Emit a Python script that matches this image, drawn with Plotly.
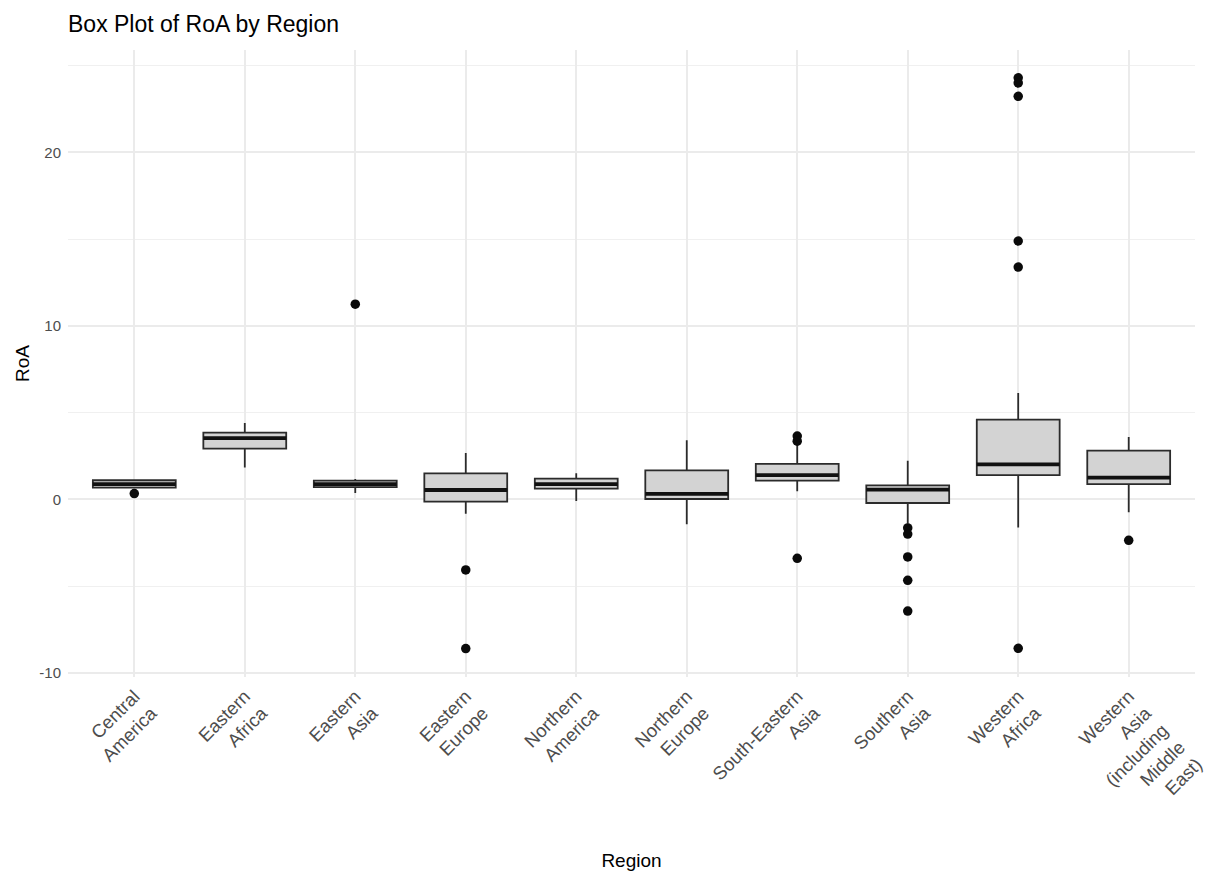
import plotly.graph_objects as go

regions = ["Central America", "Eastern Africa", "Eastern Asia", "Eastern Europe",
           "Northern America", "Northern Europe", "South-Eastern Asia", "Southern Asia",
           "Western Africa", "Western Asia (including Middle East)"]
tick_labels = ["Central<br>America", "Eastern<br>Africa", "Eastern<br>Asia", "Eastern<br>Europe",
               "Northern<br>America", "Northern<br>Europe", "South-Eastern<br>Asia", "Southern<br>Asia",
               "Western<br>Africa", "Western<br>Asia<br>(including<br>Middle<br>East)"]
y_ticks = [-10, 0, 10, 20]
y_minor = [-5, 5, 15, 25]

q1 = [0.68, 2.92, 0.70, -0.13, 0.62, 0.02, 1.08, -0.21, 1.40, 0.88]
median = [0.88, 3.53, 0.88, 0.54, 0.88, 0.31, 1.40, 0.56, 2.02, 1.25]
q3 = [1.10, 3.84, 1.08, 1.50, 1.19, 1.67, 2.04, 0.81, 4.59, 2.81]
lower_whisker = [0.62, 1.83, 0.36, -0.83, -0.10, -1.44, 0.46, -1.40, -1.63, -0.75]
upper_whisker = [1.15, 4.40, 1.17, 2.67, 1.50, 3.40, 3.15, 2.23, 6.13, 3.59]

outliers = {
    "Central America": [0.33],
    "Eastern Asia": [11.25],
    "Eastern Europe": [-4.07, -8.60],
    "South-Eastern Asia": [3.65, 3.35, -3.40],
    "Southern Asia": [-1.65, -2.00, -3.32, -4.67, -6.44],
    "Western Africa": [24.30, 24.00, 23.23, 14.89, 13.39, -8.59],
    "Western Asia (including Middle East)": [-2.36],
}

BOX_W = 0.75
LINE = "#2b2b2b"
FONT = "Liberation Sans, Arial, Helvetica, sans-serif"

pos = list(range(len(regions)))

fig = go.Figure()
fig.add_trace(go.Box(
    x=pos, q1=q1, median=median, q3=q3,
    lowerfence=lower_whisker, upperfence=upper_whisker,
    fillcolor="#D3D3D3", line=dict(color=LINE, width=1.8),
    whiskerwidth=0, boxpoints=False, width=BOX_W, showlegend=False,
    hoverinfo="skip",
))

# thicker median lines (ggplot fatten)
mx, my = [], []
for i, m in zip(pos, median):
    mx += [i - BOX_W / 2, i + BOX_W / 2, None]
    my += [m, m, None]
fig.add_trace(go.Scatter(x=mx, y=my, mode="lines", line=dict(color="#111111", width=3.8),
                         showlegend=False, hoverinfo="skip"))

ox, oy = [], []
for i, r in enumerate(regions):
    for v in outliers.get(r, []):
        ox.append(i)
        oy.append(v)
fig.add_trace(go.Scatter(x=ox, y=oy, mode="markers",
                         marker=dict(color="#0a0a0a", size=9.5),
                         showlegend=False, hoverinfo="skip"))

fig.update_layout(
    width=1207, height=880,
    margin=dict(l=68, r=12, t=50, b=203, autoexpand=False),
    paper_bgcolor="white", plot_bgcolor="white",
    font=dict(family=FONT, color="black"),
    title=dict(text="Box Plot of RoA by Region", x=68 / 1207, xanchor="left",
               xref="container", yref="container", y=1 - 16 / 880, yanchor="top",
               font=dict(size=23, color="black")),
    xaxis=dict(
        range=[-0.6, 9.6], tickmode="array", tickvals=pos, ticktext=tick_labels,
        tickangle=-45, tickfont=dict(size=18.5, color="#4d4d4d"),
        showgrid=True, gridcolor="#ebebeb", gridwidth=1.5, zeroline=False,
        showline=False, ticks="", ticklabelstandoff=4, ticklabeloverflow="allow",
        title=dict(text="Region", font=dict(size=19, color="black"), standoff=30),
    ),
    yaxis=dict(
        range=[-10.24, 25.9], tickmode="array", tickvals=y_ticks,
        ticktext=[str(v) for v in y_ticks],
        tickfont=dict(size=15, color="#4d4d4d"),
        showgrid=True, gridcolor="#ebebeb", gridwidth=1.5, zeroline=False,
        showline=False, ticks="", ticklabelstandoff=6,
        minor=dict(tickvals=y_minor, showgrid=True, gridcolor="#f0f0f0", gridwidth=1.2),
        title=dict(text="RoA", font=dict(size=19, color="black"), standoff=4),
    ),
)

fig.write_html("out.html")
